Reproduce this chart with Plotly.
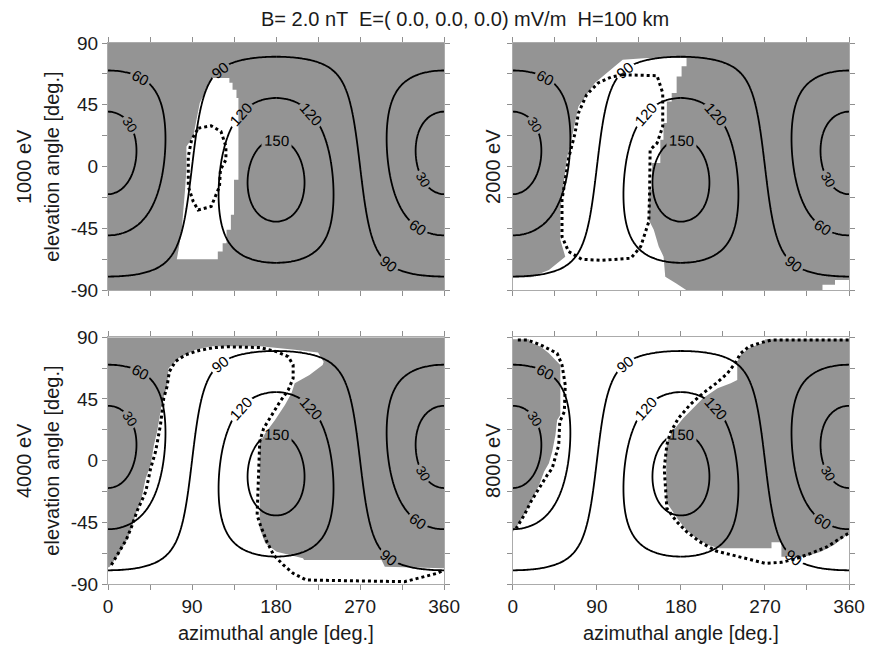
import numpy as np
import plotly.graph_objects as go

# ---------------- data ----------------
TITLE = "B= 2.0 nT  E=( 0.0, 0.0, 0.0) mV/m  H=100 km"
ENERGY_LABELS = ["1000 eV", "2000 eV", "4000 eV", "8000 eV"]

AZ_TICKS = [0, 45, 90, 135, 180, 225, 270, 315, 360]
AZ_LABELS = ["0", "", "90", "", "180", "", "270", "", "360"]
EL_TICKS = [-90, -67.5, -45, -22.5, 0, 22.5, 45, 67.5, 90]
EL_LABELS = ["-90", "", "-45", "", "0", "", "45", "", "90"]

CONTOUR_LEVELS = [30, 60, 90, 120, 150]      # pitch-angle contours [deg]
B_AZIMUTH = 0.0
B_ELEVATION = 10.0

# panel 1 (1000 eV): white region on grey, dotted loop
P1_WHITE_AZ = [112, 130, 130, 133.4, 133.4, 137.6, 137.6, 139.7, 139.7, 135, 135, 131.6, 131.6, 127, 127,
               122.8, 122.8, 117.6, 117.6, 73.7, 75.5, 79, 80.7, 82.5, 84, 84, 91.3, 94.7, 98.3, 105.3]
P1_WHITE_EL = [64.5, 64.5, 61, 61, 56, 56, 50, 50, -9.6, -9.6, -35, -35, -46, -46, -55.7,
               -55.7, -61.8, -61.8, -67.4, -67.4, -60.6, -46, -31.5, -17, -2, 14.7, 22, 34, 46.3, 56]
P1_DOT_AZ = [96.7, 110.5, 121, 126.3, 126.3, 120.4, 119.4, 110.5, 96.5, 91.3, 86, 86, 89.5, 96.7]
P1_DOT_EL = [28, 29.7, 25.6, 14.7, 5, -2.3, -14.5, -29, -31.5, -25.4, -14.5, 7.4, 19.5, 28]

# panel 2 (2000 eV)
P2_WHITE_AZ = [0, 0, 19.3, 38.6, 56.1, 50.8, 50.8, 54.4, 57.9, 65, 70.2, 87.7, 117.6, 144, 186, 186,
               180.7, 180.7, 175.4, 175.4, 170.1, 170.1, 164.9, 164.9, 161.3, 161.3, 157.9, 157.9,
               149.1, 149.1, 145.6, 145.6, 150.9, 156.2, 161.4, 163.2, 175, 186]
P2_WHITE_EL = [-90, -80.5, -80.5, -75.2, -65.5, -53.3, -31.5, -12, 6.2, 26.8, 43.8, 60.9, 77.8, 79, 79, 73,
               73, 65.7, 65.7, 53.6, 53.6, 47.5, 47.5, 31.7, 31.7, 19.5, 19.5, 2.6,
               2.6, -16.9, -16.9, -38.8, -46, -58.2, -65.5, -80.1, -85, -90]
P2_WHITE2_AZ = [331.6, 331.6, 345, 345, 360, 360]
P2_WHITE2_EL = [-90, -86, -86, -82.5, -82.5, -90]
P2_DOT_AZ = [117.6, 154.4, 160.5, 160.5, 154.4, 147, 146.5, 145.6, 136.9, 126.3, 94.7, 73.7, 59.7, 52.6,
             52.6, 59.7, 66.6, 70.2, 78.9, 91.3, 105.3, 117.6]
P2_DOT_EL = [66.9, 66.2, 53.6, 29.2, 17.1, 12.2, -16.9, -40, -58.2, -66.7, -68.2, -67.4, -61.8, -50.9,
             -24.2, 6.2, 24.4, 39, 52.3, 60.9, 65.2, 66.9]

# panel 3 (4000 eV)
P3_WHITE_AZ = [0, 0, 1.8, 12.3, 21.1, 26.3, 29.9, 35.2, 40.4, 45.7, 49.2, 52.6, 54.4, 57.9, 63.2, 64.9,
               75.5, 93, 110.5, 163, 200, 225, 231, 229.9, 215.8, 200, 196.5, 189.5, 178.9, 168.4, 162.5,
               162.5, 168.4, 180.7, 208.8, 210, 293, 296.5, 360, 360]
P3_WHITE_EL = [-90, -78, -77.4, -67.6, -56.7, -47, -38.4, -29.9, -12.9, -3.2, 11.4, 21.1, 28.4, 43, 54, 67.4,
               74.7, 80.7, 83.5, 83.5, 81, 79, 72, 69.8, 62.5, 56.4, 49.1, 40.6, 29.7, 20, 12.7,
               -49.4, -60.3, -66.4, -71.2, -72.5, -72.5, -77.4, -78.5, -90]
P3_DOT_AZ = [3.6, 12.3, 19.4, 24.6, 31.6, 40.4, 45.7, 50.9, 56.2, 59.7, 63.2, 65.7, 72, 82.5, 96.5, 112.3,
             128.1, 163.2, 180.7, 193, 198.3, 198.3, 193, 184.2, 175.5, 166.7, 162.5, 159.7, 163.2, 170.2,
             177.3, 187.8, 198.3, 212.3, 317.6, 338.6, 352.6, 359.7]
P3_DOT_EL = [-76.1, -66.4, -57.9, -49.4, -36, -22.7, -5.6, 6.5, 26, 45.5, 54, 64.9, 72.2, 77.1, 80.2, 82.4,
             83.1, 82.5, 79.5, 75.9, 69.8, 60.1, 51.5, 43, 33.3, 23.6, 13.8, -39.7, -47, -59.1,
             -68.8, -76.1, -82.2, -87.1, -88.3, -84.7, -82.2, -79.8]

# panel 4 (8000 eV): grey regions on white
P4_GRAY_L_AZ = [0, 17.5, 17.5, 29.8, 38.6, 45.6, 50.8, 50.8, 47.4, 45.6, 42.1, 38.6, 33.4, 28.1, 22.8,
                15.8, 8.7, 1.8, 0]
P4_GRAY_L_EL = [88.5, 88.5, 86.8, 83.1, 78.3, 73.4, 69.8, 33.3, 29.7, 18.7, 6.5, -1.9, -8.1, -17.8, -25.1,
                -34.8, -43.3, -50.6, -51.8]
P4_GRAY_R_AZ = [270.2, 360, 360, 343.8, 329.8, 312.2, 287.6, 287.6, 277, 277, 221, 208.8, 196.5, 186,
                177.2, 170.2, 164.2, 164.2, 166.6, 173.7, 182.4, 193, 203.5, 219.3, 233.3, 240.3, 240.3,
                243.9, 252.6, 270.2]
P4_GRAY_R_EL = [88.5, 88.5, -53, -61.5, -66.4, -70.1, -70.1, -59.5, -59.5, -64, -64, -61.5, -56.6, -50.6,
                -43.3, -36, -29.9, 9, 16.3, 23.6, 30.9, 38.2, 45.5, 52.8, 56.4, 58.8, 72.2,
                77.1, 82, 86.8]
P4_DOT_L_AZ = [5.3, 15.8, 29.8, 47.4, 52.6, 56.1, 55.1, 50.2, 49.1, 42.1, 36.8, 28.1, 19.3, 12.3, 7.1, 3.5]
P4_DOT_L_EL = [88, 88, 84.4, 78.3, 69.8, 55.2, 35.7, 28.4, 11.4, -5.6, -10.5, -20.2, -29.9, -39.6, -45.7, -49.4]
P4_DOT_R_AZ = [359.6, 277.2, 266.7, 252.6, 243.9, 237.9, 229.8, 217.6, 203.5, 189.5, 177.2, 168.4, 164.9,
               162.1, 164.9, 175.4, 186, 200, 217.6, 235.1, 252.6, 270.2, 287.6, 301.8, 319.3, 336.8,
               350.8, 359.6]
P4_DOT_R_EL = [88, 88, 86.3, 83.1, 78.3, 71, 63.7, 56.4, 49.1, 40.6, 30.9, 20, 11.4,
               -5.6, -34.8, -44.5, -51.8, -59.1, -65.9, -68.8, -71.8, -74.9, -74.2, -71.8, -67.6, -62.8,
               -56.6, -53]

# ---------------- styling ----------------
GRAY = "#949494"
FONT = "Liberation Sans, Arial, Helvetica, sans-serif"
TXT = "#1a1a1a"

# pitch angle grid relative to the field direction
az_grid = np.arange(0, 361, 2.0)
el_grid = np.arange(-90, 90.5, 1.0)
A, E = np.meshgrid(np.radians(az_grid), np.radians(el_grid))
b_az, b_el = np.radians(B_AZIMUTH), np.radians(B_ELEVATION)
cosang = np.cos(E) * np.cos(b_el) * np.cos(A - b_az) + np.sin(E) * np.sin(b_el)
pitch = np.degrees(np.arccos(np.clip(cosang, -1, 1)))
full = az_grid >= 0
half_l = az_grid <= 180
half_r = az_grid >= 180

# (levels, azimuth part of the grid, label size) groups so every line piece gets its own label
CONTOUR_GROUPS = [
    (CONTOUR_LEVELS[0:1], full, 13.5),
    (CONTOUR_LEVELS[1:2], full, 15),
    (CONTOUR_LEVELS[2:3], half_l, 15),
    (CONTOUR_LEVELS[2:3], half_r, 15),
    (CONTOUR_LEVELS[3:4], half_l, 15),
    (CONTOUR_LEVELS[3:4], half_r, 15),
    (CONTOUR_LEVELS[4:5], full, 15),
]

panels = [
    dict(base=GRAY, polys=[(P1_WHITE_AZ, P1_WHITE_EL, "white")],
         dots=[(P1_DOT_AZ, P1_DOT_EL)]),
    dict(base=GRAY, polys=[(P2_WHITE_AZ, P2_WHITE_EL, "white"), (P2_WHITE2_AZ, P2_WHITE2_EL, "white")],
         dots=[(P2_DOT_AZ, P2_DOT_EL)]),
    dict(base=GRAY, polys=[(P3_WHITE_AZ, P3_WHITE_EL, "white")],
         dots=[(P3_DOT_AZ, P3_DOT_EL)]),
    dict(base="white", polys=[(P4_GRAY_L_AZ, P4_GRAY_L_EL, GRAY), (P4_GRAY_R_AZ, P4_GRAY_R_EL, GRAY)],
         dots=[(P4_DOT_L_AZ, P4_DOT_L_EL), (P4_DOT_R_AZ, P4_DOT_R_EL)]),
]

# layout geometry (paper coords); page body has an 8px margin, so figure is 8px smaller
XDOM = [[0, 0.4536], [0.5464, 1.0]]
YDOM = [[0.5429, 1.0], [0.0, 0.4560]]

fig = go.Figure()
shapes = []
layout = dict(
    width=869, height=641,
    margin=dict(l=100, r=15, t=35, b=65),
    paper_bgcolor="white", plot_bgcolor="white",
    showlegend=False,
    font=dict(family=FONT, color=TXT, size=19),
)


def path_of(az, el):
    return "M " + " L ".join(f"{a},{e}" for a, e in zip(az, el)) + " Z"


for i, p in enumerate(panels):
    n = i + 1
    xr = "x" if n == 1 else f"x{n}"
    yr = "y" if n == 1 else f"y{n}"
    col, row = i % 2, i // 2
    shapes.append(dict(type="rect", xref=xr, yref=yr, x0=0, x1=360, y0=-90, y1=90,
                       fillcolor=p["base"], line=dict(width=0), layer="below"))
    for az, el, c in p["polys"]:
        shapes.append(dict(type="path", xref=xr, yref=yr, path=path_of(az, el),
                           fillcolor=c, line=dict(width=0), layer="below"))
    for levels, part, lsize in CONTOUR_GROUPS:
        fig.add_trace(go.Contour(
            x=az_grid[part], y=el_grid, z=pitch[:, part], xaxis=xr, yaxis=yr,
            contours=dict(start=levels[0], end=levels[-1], size=30,
                          coloring="lines", showlabels=True,
                          labelfont=dict(size=lsize, color="black", family=FONT)),
            colorscale=[[0, "black"], [1, "black"]], showscale=False,
            line=dict(width=1.8), hoverinfo="skip"))
    for az, el in p["dots"]:
        fig.add_trace(go.Scatter(x=az, y=el, xaxis=xr, yaxis=yr, mode="lines",
                                 line=dict(color="black", width=3, dash="3px,3px"),
                                 hoverinfo="skip"))
    axis_common = dict(showline=True, linecolor="#ababab", linewidth=1, mirror="ticks",
                       ticks="outside", ticklen=5, tickcolor="#8f8f8f", tickwidth=1,
                       showgrid=False, zeroline=False, tickfont=dict(size=19, color=TXT))
    xname = "xaxis" if n == 1 else f"xaxis{n}"
    yname = "yaxis" if n == 1 else f"yaxis{n}"
    layout[xname] = dict(axis_common, domain=XDOM[col], range=[0, 360], anchor=yr,
                         tickmode="array", tickvals=AZ_TICKS,
                         ticktext=AZ_LABELS if row == 1 else [""] * len(AZ_TICKS))
    layout[yname] = dict(axis_common, domain=YDOM[row], range=[-90, 90], anchor=xr,
                         tickmode="array", tickvals=EL_TICKS,
                         ticktext=EL_LABELS if col == 0 else [""] * len(EL_TICKS))

annotations = [
    dict(text=TITLE, x=0.4814, y=1.0444, xref="paper", yref="paper", showarrow=False,
         xanchor="center", yanchor="middle", font=dict(size=20, color=TXT)),
]
for xc in [0.2268, 0.7732]:
    annotations.append(dict(text="azimuthal angle [deg.]", x=xc, y=-0.0911, xref="paper", yref="paper",
                            showarrow=False, xanchor="center", yanchor="middle",
                            font=dict(size=20, color=TXT)))
ycent = [0.7714, 0.228]
for i, lab in enumerate(ENERGY_LABELS):
    col, row = i % 2, i // 2
    if col == 0:
        annotations.append(dict(text=lab, x=-0.1141, y=ycent[row], xref="paper", yref="paper",
                                showarrow=False, textangle=-90, xanchor="center", yanchor="middle",
                                font=dict(size=20, color=TXT)))
        annotations.append(dict(text="elevation angle [deg.]", x=-0.0756, y=ycent[row], xref="paper",
                                yref="paper", showarrow=False, textangle=-90, xanchor="center",
                                yanchor="middle", font=dict(size=20, color=TXT)))
    else:
        annotations.append(dict(text=lab, x=0.5186, y=ycent[row], xref="paper", yref="paper",
                                showarrow=False, textangle=-90, xanchor="center", yanchor="middle",
                                font=dict(size=20, color=TXT)))

layout["shapes"] = shapes
layout["annotations"] = annotations
fig.update_layout(**layout)
fig.write_html("out.html")
